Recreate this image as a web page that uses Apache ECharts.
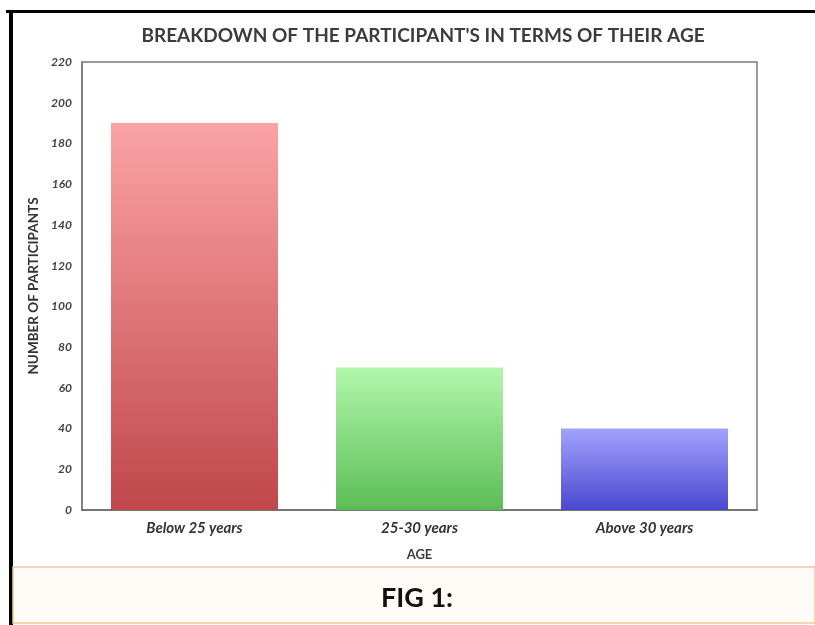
<!DOCTYPE html>
<html>
<head>
<meta charset="utf-8">
<script src="https://cdn.jsdelivr.net/npm/echarts@6/dist/echarts.min.js"></script>
<style>
  html, body { margin: 0; padding: 0; background: #ffffff; }
  #chart { width: 815px; height: 625px; }
</style>
</head>
<body>
<div id="chart"></div>
<script>
// Age groups and participant counts
const categories = ['Below 25 years', '25-30 years', 'Above 30 years'];
const participants = [190, 70, 40];
const yTicks = { min: 0, max: 220, step: 20 };

// Top/bottom gradient colours for each bar
const barTopColors = ['#fba3a5', '#b1f7aa', '#a3a3fd'];
const barBottomColors = ['#c0474b', '#5cbd57', '#4a48cf'];

const FONT = 'Lato, "Open Sans", sans-serif';

const chart = echarts.init(document.getElementById('chart'), null, { renderer: 'canvas' });

const barData = participants.map((v, i) => ({
  value: v,
  itemStyle: {
    color: new echarts.graphic.LinearGradient(0, 0, 0, 1, [
      { offset: 0, color: barTopColors[i] },
      { offset: 1, color: barBottomColors[i] }
    ])
  }
}));

chart.setOption({
  backgroundColor: '#ffffff',
  animation: false,
  title: {
    text: "BREAKDOWN OF THE PARTICIPANT'S IN TERMS OF THEIR AGE",
    left: 418,
    textAlign: 'center',
    top: 21,
    textStyle: { fontFamily: FONT, fontSize: 19, fontWeight: 'bold', color: '#3c3c3c' }
  },
  grid: {
    left: 82, right: 58, top: 62, bottom: 115,
    show: true, borderColor: '#7a7a7a', borderWidth: 1.5, backgroundColor: 'transparent'
  },
  xAxis: {
    type: 'category',
    data: categories,
    name: 'AGE',
    nameLocation: 'middle',
    nameGap: 38,
    nameTextStyle: { fontFamily: FONT, fontSize: 13, fontWeight: 'bold', color: '#404040' },
    axisLine: { lineStyle: { color: '#6a6a6a', width: 1.5 } },
    axisTick: { show: false },
    axisLabel: { fontFamily: FONT, fontSize: 15, fontStyle: 'italic', fontWeight: 'bold', color: '#333333', margin: 11 }
  },
  yAxis: {
    type: 'value',
    min: yTicks.min,
    max: yTicks.max,
    interval: yTicks.step,
    name: 'NUMBER OF PARTICIPANTS',
    nameLocation: 'middle',
    nameGap: 40,
    nameTextStyle: { fontFamily: FONT, fontSize: 13.5, fontWeight: 'bold', color: '#333333' },
    axisLine: { show: true, lineStyle: { color: '#7a7a7a', width: 1.5 } },
    axisTick: { show: false },
    splitLine: { show: false },
    axisLabel: { fontFamily: FONT, fontSize: 12, fontStyle: 'italic', fontWeight: 'bold', color: '#444444', margin: 10 }
  },
  series: [{
    type: 'bar',
    data: barData,
    barWidth: 167
  }],
  graphic: [
    // outer frame: black rules on top and left
    { type: 'rect', shape: { x: 6, y: 10, width: 809, height: 3 }, style: { fill: '#000000' }, silent: true },
    { type: 'rect', shape: { x: 9, y: 10, width: 4, height: 615 }, style: { fill: '#000000' }, silent: true },
    // caption panel
    { type: 'rect', shape: { x: 13, y: 567, width: 802, height: 56 },
      style: { fill: '#fffbf6', stroke: '#f1c79c', lineWidth: 1.5 }, silent: true },
    { type: 'text', x: 417, y: 598,
      style: { text: 'FIG 1:', fontFamily: FONT, fontSize: 27, fontWeight: 'bold', fill: '#111111',
               textAlign: 'center', textVerticalAlign: 'middle' }, silent: true }
  ]
});
</script>
</body>
</html>
